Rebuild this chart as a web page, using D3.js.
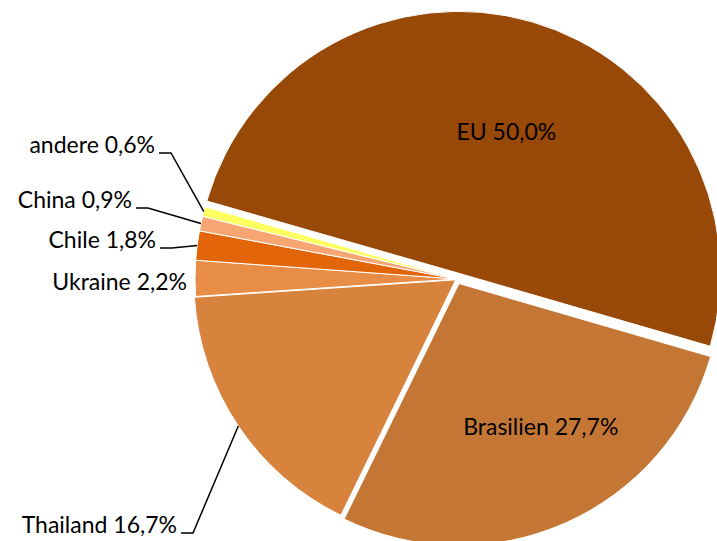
<!DOCTYPE html>
<html lang="de">
<head>
<meta charset="UTF-8"/>
<title>Pie chart</title>
<script src="https://d3js.org/d3.v7.min.js"></script>
<style>
    body { margin: 0; background: #fff; }
    text { font-family: Lato, "Liberation Sans", sans-serif; font-size: 23px; fill: #000; }
    .leader { fill: none; stroke: #000; stroke-width: 1.5px; }
</style>
</head>
<body>
<div id="chart"></div>
<script>
// data
var countries = ["EU", "Brasilien", "Thailand", "Ukraine", "Chile", "China", "andere"];
var shares = [50.0, 27.7, 16.7, 2.2, 1.8, 0.9, 0.6];
var colors = ["#984807", "#c47735", "#d7823d", "#e88d45", "#e2650a", "#f7a673", "#ffff5f"];

var width = 717, height = 541;
var cx = 457, cy = 279, radius = 262;
var startDeg = -74;
var explode = [6, 5, 1.5, 0, 0, 0, 0];

// label layout: inside labels near the centroid, outside ones at the left
var inside = {
    "EU": {r: 0.56, dx: 7, dy: 0},
    "Brasilien": {r: 0.6, dx: 18, dy: 0}
};
var outside = {
    "Thailand": {x: 177, y: 533},
    "Ukraine": {x: 187, y: 290, noLine: true},
    "Chile": {x: 156, y: 248},
    "China": {x: 132, y: 208},
    "andere": {x: 155, y: 153}
};

var svg = d3.select("#chart").append("svg")
    .attr("width", width)
    .attr("height", height);

var g = svg.append("g").attr("transform", "translate(" + cx + "," + cy + ")");

var data = countries.map(function(c, i) { return {name: c, value: shares[i], i: i}; });

var pie = d3.pie()
    .value(function(d) { return d.value; })
    .sort(null)
    .startAngle(startDeg * Math.PI / 180)
    .endAngle(startDeg * Math.PI / 180 + 2 * Math.PI);

var arc = d3.arc().innerRadius(0).outerRadius(radius);
var arcs = pie(data);

function offset(d) {
    var a = (d.startAngle + d.endAngle) / 2;
    var e = explode[d.data.i];
    return [Math.sin(a) * e, -Math.cos(a) * e];
}

g.selectAll("path.slice")
    .data(arcs)
    .enter()
    .append("path")
    .attr("class", "slice")
    .attr("d", arc)
    .attr("transform", function(d) { var o = offset(d); return "translate(" + o[0] + "," + o[1] + ")"; })
    .attr("fill", function(d) { return colors[d.data.i]; })
    .attr("stroke", "#fff")
    .attr("stroke-width", 1);

function fmt(v) { return v.toFixed(1).replace(".", ",") + "%"; }

// inside labels
g.selectAll("text.inside")
    .data(arcs.filter(function(d) { return inside[d.data.name]; }))
    .enter()
    .append("text")
    .attr("class", "inside")
    .attr("text-anchor", "middle")
    .attr("dy", "0.35em")
    .attr("transform", function(d) {
        var L = inside[d.data.name];
        var c = d3.arc().innerRadius(radius * L.r).outerRadius(radius * L.r).centroid(d);
        var o = offset(d);
        return "translate(" + (c[0] + o[0] + L.dx) + "," + (c[1] + o[1] + L.dy) + ")";
    })
    .text(function(d) { return d.data.name + " " + fmt(d.data.value); });

// outside labels with leader lines
var outs = arcs.filter(function(d) { return outside[d.data.name]; });

outs.forEach(function(d) {
    var L = outside[d.data.name];
    var a = (d.startAngle + d.endAngle) / 2;
    var o = offset(d);
    var px = cx + Math.sin(a) * radius + o[0], py = cy - Math.cos(a) * radius + o[1];
    if (!L.noLine) {
        svg.append("path")
            .attr("class", "leader")
            .attr("d", d3.line()([[L.x + 4, L.y], [L.x + 16, L.y], [px, py]]));
    }
    svg.append("text")
        .attr("x", L.x)
        .attr("y", L.y)
        .attr("text-anchor", "end")
        .text(d.data.name + " " + fmt(d.data.value));
});
</script>
</body>
</html>
